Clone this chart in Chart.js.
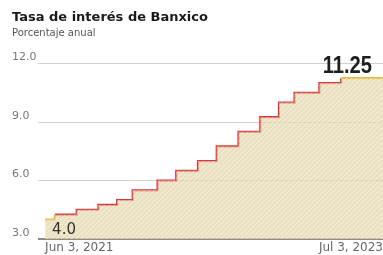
<!DOCTYPE html>
<html>
<head>
<meta charset="utf-8">
<script src="https://cdn.jsdelivr.net/npm/chart.js@4"></script>
<style>
  html, body { margin: 0; padding: 0; background: #fff; }
  #myChart { display: block; }
</style>
</head>
<body>
<canvas id="myChart" width="383" height="255"></canvas>
<script>
// Banxico policy rate decisions (effective dates) and the rate after each one
const dates = ['2021-06-03', '2021-06-25', '2021-08-13', '2021-10-01', '2021-11-12', '2021-12-17',
  '2022-02-11', '2022-03-25', '2022-05-13', '2022-06-24', '2022-08-12', '2022-09-30',
  '2022-11-11', '2022-12-16', '2023-02-10', '2023-03-31', '2023-07-03'];
const rates = [4.0, 4.25, 4.5, 4.75, 5.0, 5.5, 6.0, 6.5, 7.0, 7.75, 8.5, 9.25, 10.0, 10.5, 11.0, 11.25, 11.25];
const xTickLabels = ['Jun 3, 2021', 'Jul 3, 2023'];
const yTicks = [3, 6, 9, 12];
const pointLabels = ['4.0', '11.25'];

const DAY = 86400000;
const t0 = Date.parse(dates[0]);
const days = dates.map(d => Math.round((Date.parse(d) - t0) / DAY));
const points = days.map((d, i) => ({x: d, y: rates[i]}));
const last = points.length - 1;

// hatched beige fill
const pat = document.createElement('canvas');
pat.width = 5; pat.height = 5;
const pctx = pat.getContext('2d');
pctx.fillStyle = 'rgba(226,211,163,0.68)';
pctx.fillRect(0, 0, 5, 5);
pctx.strokeStyle = 'rgba(255,255,255,0.5)';
pctx.lineWidth = 1;
pctx.beginPath();
pctx.moveTo(-1, 6); pctx.lineTo(6, -1);
pctx.stroke();
const ctx = document.getElementById('myChart').getContext('2d');
const hatch = ctx.createPattern(pat, 'repeat');

const YELLOW = '#f2b531';
const RED = '#da3444';

const labelPlugin = {
  id: 'pointLabels',
  afterDatasetsDraw(chart) {
    const meta = chart.getDatasetMeta(1);
    const c = chart.ctx;
    const p0 = meta.data[0];
    const pN = meta.data[last];
    c.save();
    c.fillStyle = '#333';
    c.font = '15px "DejaVu Sans"';
    c.textAlign = 'left';
    c.textBaseline = 'alphabetic';
    c.fillText(pointLabels[0], p0.x + 7, p0.y + 14);
    // condensed bold figure for the latest value
    c.fillStyle = '#1e1e1e';
    c.font = 'bold 24px "Liberation Sans"';
    c.textAlign = 'right';
    c.translate(pN.x - 11, pN.y - 5);
    c.scale(0.84, 1);
    c.fillText(pointLabels[1], 0, 0);
    c.restore();
  }
};

new Chart(ctx, {
  type: 'line',
  data: {
    datasets: [{
      // area only
      data: points,
      stepped: true,
      borderWidth: 0,
      pointRadius: 0,
      fill: 'start',
      backgroundColor: hatch
    }, {
      data: points,
      stepped: true,
      borderWidth: 2.2,
      borderColor: RED,
      pointRadius: 0,
      fill: false,
      segment: {
        borderColor: s => (s.p0DataIndex === 0 || s.p1DataIndex === last) ? YELLOW : RED
      }
    }]
  },
  options: {
    responsive: false,
    animation: false,
    layout: { padding: { left: 12, right: 0, top: 10, bottom: 0 } },
    plugins: {
      legend: { display: false },
      tooltip: { enabled: false },
      title: {
        display: true,
        text: 'Tasa de interés de Banxico',
        align: 'start',
        color: '#1a1a1a',
        font: { family: 'DejaVu Sans', size: 13, weight: 'bold' },
        padding: { top: 0, bottom: 2 }
      },
      subtitle: {
        display: true,
        text: 'Porcentaje anual',
        align: 'start',
        color: '#555',
        font: { family: 'DejaVu Sans', size: 10 },
        padding: { top: 0, bottom: 24 }
      }
    },
    scales: {
      x: {
        type: 'linear',
        min: -16,
        max: days[last],
        afterBuildTicks: scale => { scale.ticks = [{value: days[0]}, {value: days[last]}]; },
        afterFit: scale => { scale.height = 16; scale.paddingLeft = 0; scale.paddingRight = 0; },
        grid: { display: false, drawTicks: false },
        border: { display: false },
        ticks: {
          align: 'inner',
          padding: 2,
          maxRotation: 0,
          color: '#666',
          font: { family: 'DejaVu Sans', size: 12 },
          callback: v => xTickLabels[v === days[0] ? 0 : 1]
        }
      },
      y: {
        min: 3,
        max: 12,
        afterBuildTicks: scale => { scale.ticks = yTicks.map(v => ({value: v})); },
        afterFit: scale => { scale.width = 26; },
        border: { display: false },
        grid: {
          drawTicks: false,
          color: c => c.tick.value === 3 ? '#8c8c8c' : '#d2d2d2',
          lineWidth: c => c.tick.value === 3 ? 2 : 1
        },
        ticks: {
          crossAlign: 'far',
          labelOffset: -6,
          padding: 0,
          color: '#777',
          font: { family: 'DejaVu Sans', size: 11 },
          callback: v => v.toFixed(1)
        }
      }
    }
  },
  plugins: [labelPlugin]
});
</script>
</body>
</html>
